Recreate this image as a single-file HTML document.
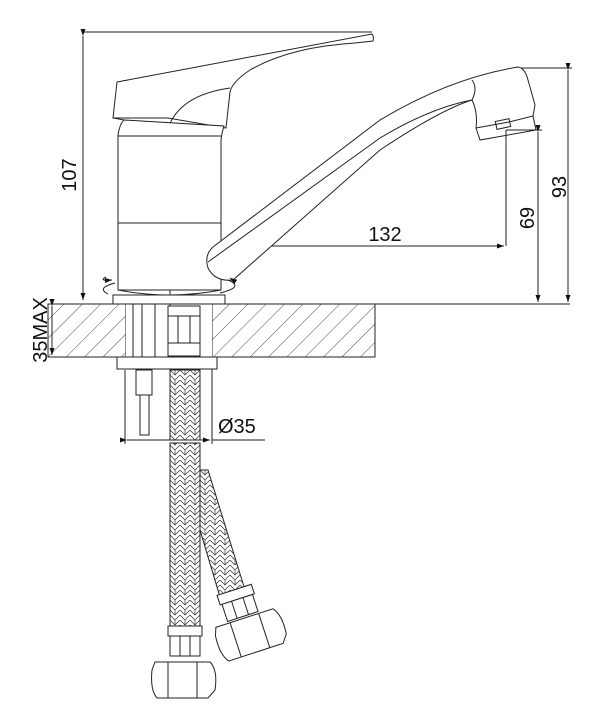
<!DOCTYPE html>
<html><head><style>body{margin:0;background:#fff}svg{display:block}text{font-family:"Liberation Sans",sans-serif;font-size:20px;fill:#111}</style></head>
<body>
<svg width="602" height="720" viewBox="0 0 602 720" xmlns="http://www.w3.org/2000/svg">
<defs>
<pattern id="h" width="13" height="13" patternUnits="userSpaceOnUse" patternTransform="rotate(45)"><line x1="0" y1="0" x2="0" y2="13" stroke="#222" stroke-width="0.8"/></pattern>
<pattern id="b" width="10" height="10" patternUnits="userSpaceOnUse"><path d="M0 0L5 5L10 0M0 5L5 10L10 5M5 0V5" fill="none" stroke="#333" stroke-width="0.7"/></pattern>
<marker id="a" markerWidth="7" markerHeight="5" refX="7" refY="2.5" orient="auto"><path d="M0 0L7 2.5L0 5z" fill="#111"/></marker>
</defs>
<g fill="none" stroke="#222" stroke-width="1">
<rect x="48" y="304" width="78" height="53" fill="url(#h)"/>
<rect x="212" y="304" width="163" height="53" fill="url(#h)"/>
<rect x="126" y="304" width="86" height="53" fill="#fff" stroke="none"/>
<line x1="48" y1="304" x2="570" y2="304"/>
<line x1="48" y1="357" x2="375" y2="357"/>
<line x1="48" y1="304" x2="48" y2="357"/>
<line x1="375" y1="304" x2="375" y2="357"/>
<line x1="83" y1="32" x2="372" y2="32"/>
<line x1="83" y1="36" x2="83" y2="300" marker-start="url(#a)" marker-end="url(#a)"/>
<line x1="52" y1="306" x2="52" y2="355" marker-start="url(#a)" marker-end="url(#a)"/>
<line x1="518" y1="68" x2="572" y2="68"/>
<line x1="568" y1="70" x2="568" y2="302" marker-start="url(#a)" marker-end="url(#a)"/>
<line x1="506" y1="130" x2="542" y2="130"/>
<line x1="538" y1="132" x2="538" y2="302" marker-start="url(#a)" marker-end="url(#a)"/>
<line x1="506" y1="130" x2="506" y2="246"/>
<line x1="172" y1="246" x2="504" y2="246" marker-start="url(#a)" marker-end="url(#a)"/>
<line x1="170" y1="246" x2="170" y2="370"/>
<line x1="125" y1="370" x2="125" y2="444"/>
<line x1="212" y1="360" x2="212" y2="444"/>
<line x1="127" y1="440" x2="210" y2="440" marker-start="url(#a)" marker-end="url(#a)"/>
<line x1="212" y1="440" x2="265" y2="440"/>
<path d="M117 82 L372 34 Q374 36 373 41 L355 43 Q290 47 250 70 Q232 82 230 92 L226 128 L168 118 L113 118 Z" fill="#fff"/>
<path d="M168 128 Q180 95 230 88"/>
<path d="M170 128 L113 118"/>
<path d="M118 135 Q120 123 124 120 L224 126 Q222 132 221 140 L221 290 L118 290 Z" fill="#fff"/>
<line x1="118" y1="136" x2="221" y2="136"/>
<line x1="118" y1="223" x2="221" y2="223"/>
<rect x="113" y="295" width="112" height="9" fill="#fff"/>
<path d="M118 290 Q170 300 221 290"/>
<path d="M213 247 L380 120 Q450 78 518 67 Q525 68 528 80 L535 105 L533 116 L509 122 L476 128 Q478 112 472 100 Q440 110 380 150 L233 280 Q215 282 208 268 Q204 255 213 247 Z" fill="#fff"/>
<path d="M208 262 L380 138 Q430 108 472 100"/>
<path d="M476 128 L480 140 L536 130 L533 116"/>
<rect x="496" y="120" width="14" height="8" transform="rotate(-12 503 124)"/>
<path d="M472 100 Q478 88 472 80"/>
<path d="M115 283 Q96 288 108 294"/>
<path d="M106 277 Q98 281 112 280" marker-end="url(#a)"/>
<path d="M228 280 Q245 287 220 293"/>
<line x1="233" y1="280" x2="230" y2="278" marker-end="url(#a)"/>
<line x1="133" y1="304" x2="133" y2="357"/>
<line x1="142" y1="304" x2="142" y2="357"/>
<line x1="155" y1="304" x2="155" y2="357"/>
<rect x="168" y="306" width="32" height="50" fill="#fff"/>
<line x1="168" y1="316" x2="200" y2="316"/>
<line x1="168" y1="343" x2="200" y2="343"/>
<line x1="178" y1="316" x2="178" y2="343"/><line x1="190" y1="316" x2="190" y2="343"/>
<rect x="117" y="357" width="100" height="12" fill="#fff"/>
<rect x="136" y="370" width="16" height="25" fill="#fff"/>
<rect x="140" y="395" width="9" height="40"/>
<rect x="170" y="370" width="30" height="70" fill="url(#b)"/>
<path d="M200 470 L208 470 L245 590 L220 597 L200 530 Z" fill="url(#b)"/>
<rect x="170" y="443" width="30" height="183" fill="url(#b)"/>
<rect x="168" y="626" width="34" height="10" fill="#fff"/>
<rect x="170" y="636" width="30" height="20" fill="#fff"/>
<line x1="180" y1="636" x2="180" y2="656"/><line x1="190" y1="636" x2="190" y2="656"/>
<path d="M155 662 L210 662 Q218 670 215 690 L208 698 L157 698 Q150 690 152 670 Z" fill="#fff"/>
<line x1="168" y1="662" x2="168" y2="698"/><line x1="197" y1="662" x2="197" y2="698"/>
<g transform="rotate(-18 245 620)">
<rect x="226" y="588" width="36" height="10" fill="#fff"/>
<rect x="228" y="598" width="32" height="18" fill="#fff"/>
<line x1="238" y1="598" x2="238" y2="616"/><line x1="250" y1="598" x2="250" y2="616"/>
<path d="M215 618 L275 618 Q282 626 280 646 L274 654 L217 654 Q210 646 212 626 Z" fill="#fff"/>
<line x1="230" y1="618" x2="230" y2="654"/><line x1="260" y1="618" x2="260" y2="654"/>
</g>
</g>
<text x="385" y="241" text-anchor="middle">132</text>
<text x="218" y="433">Ø35</text>
<text transform="translate(76 175) rotate(-90)" text-anchor="middle">107</text>
<text transform="translate(566 187) rotate(-90)" text-anchor="middle">93</text>
<text transform="translate(534 218) rotate(-90)" text-anchor="middle">69</text>
<text transform="translate(47 330) rotate(-90)" text-anchor="middle">35MAX</text>
</svg>
</body></html>
